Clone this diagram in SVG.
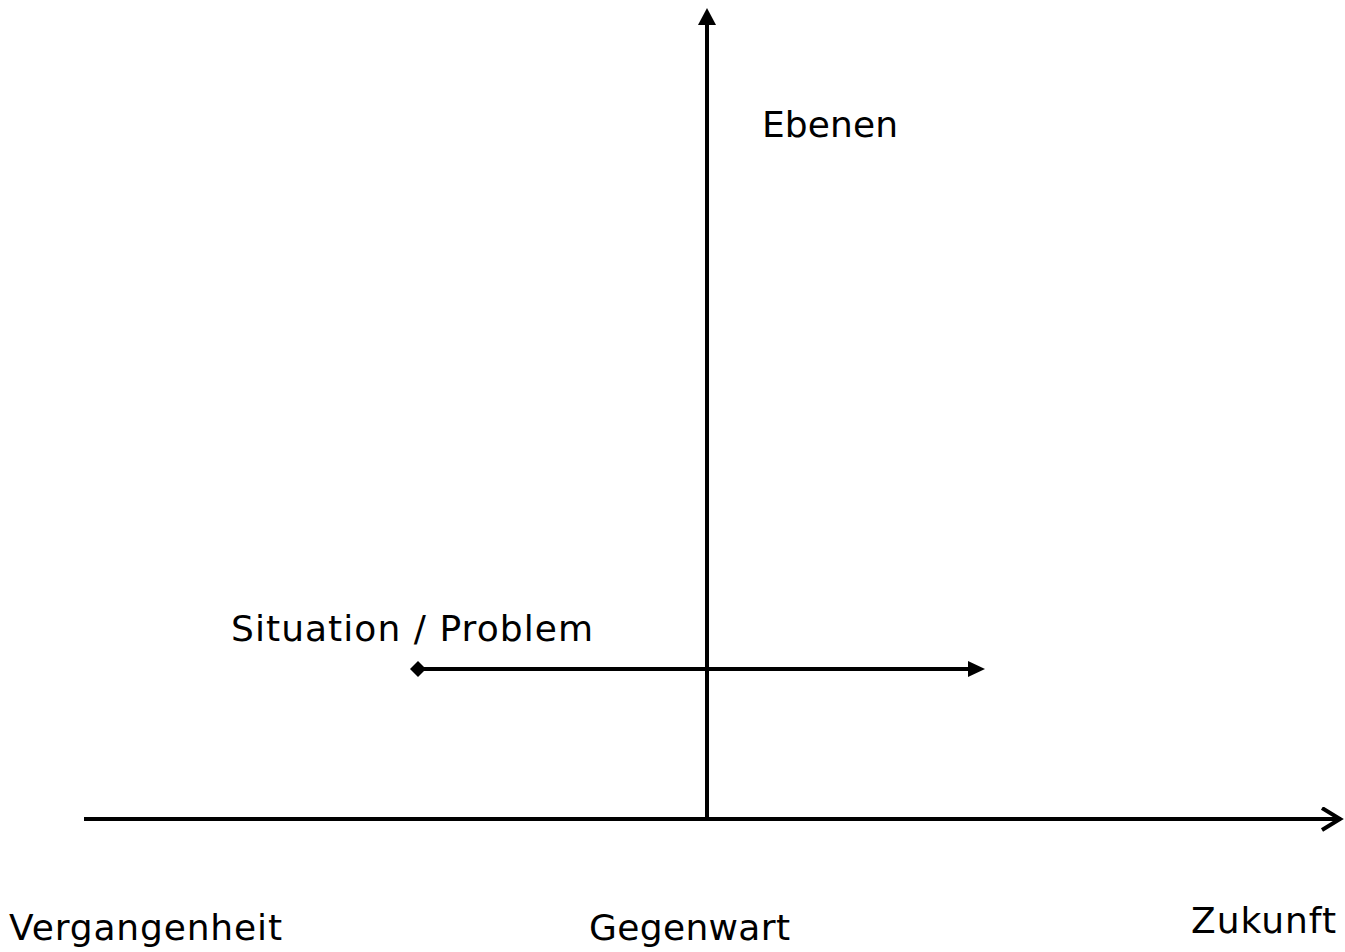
<svg xmlns="http://www.w3.org/2000/svg" width="1345" height="952" viewBox="0 0 1345 952">
<style>
.t{font-family:"DejaVu Sans",Verdana,sans-serif;font-size:36px;fill:#000}
.l{stroke:#000;stroke-width:4;fill:none}
</style>
<defs>
<marker id="tri" markerUnits="userSpaceOnUse" markerWidth="20" markerHeight="20" refX="1" refY="9" orient="auto"><path d="M0,0 L17,9 L0,18 Z" fill="#000"/></marker>
<marker id="tri2" markerUnits="userSpaceOnUse" markerWidth="20" markerHeight="18" refX="1" refY="8" orient="auto"><path d="M0,0 L17,8 L0,16 Z" fill="#000"/></marker>
<marker id="open" markerUnits="userSpaceOnUse" markerWidth="26" markerHeight="28" refX="21" refY="12" orient="auto"><path d="M2,1 L20,12 L2,23" stroke="#000" stroke-width="4" fill="none"/></marker>
<marker id="dia" markerUnits="userSpaceOnUse" markerWidth="16" markerHeight="16" refX="8" refY="8" orient="auto"><path d="M0,8 L8,0 L16,8 L8,16 Z" fill="#000"/></marker>
</defs>
<g id="connectors">
<line class="l" x1="707" y1="819" x2="707" y2="24" marker-end="url(#tri)"/>
<line class="l" x1="84" y1="819" x2="1341" y2="819" marker-end="url(#open)"/>
<line class="l" x1="418" y1="669" x2="969" y2="669" marker-start="url(#dia)" marker-end="url(#tri2)"/>
</g>
<g id="ebenen"><text class="t" x="762" y="137" textLength="136" lengthAdjust="spacing">Ebenen</text></g>
<g id="situation"><text class="t" x="231" y="641" textLength="362" lengthAdjust="spacing">Situation / Problem</text></g>
<g id="vergangenheit"><text class="t" x="9" y="940" textLength="273" lengthAdjust="spacing">Vergangenheit</text></g>
<g id="gegenwart"><text class="t" x="589" y="940" textLength="201" lengthAdjust="spacing">Gegenwart</text></g>
<g id="zukunft"><text class="t" x="1191" y="933" textLength="145" lengthAdjust="spacing">Zukunft</text></g>
</svg>
